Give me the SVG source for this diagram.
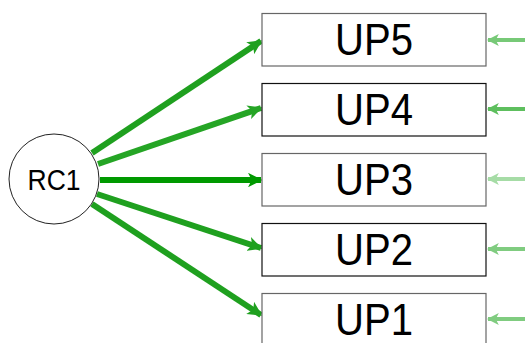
<svg xmlns="http://www.w3.org/2000/svg" width="525" height="343" viewBox="0 0 525 343">
<style>
.box{fill:#fff;stroke-width:1.2}
.lbl{font-family:"Liberation Sans",Arial,sans-serif;font-size:44px;fill:#000;text-anchor:middle}
.path{stroke-width:6;fill:none}
.err{stroke-width:4;fill:none}
</style>
<defs>
<marker id="ah" viewBox="0 0 10 10" refX="9" refY="5" markerWidth="2.4" markerHeight="2.4" orient="auto" markerUnits="strokeWidth"><path d="M0,0 L10,5 L0,10 L2.5,5 Z" fill="context-stroke"/></marker>
<marker id="ahe" viewBox="0 0 10 10" refX="9" refY="5" markerWidth="3" markerHeight="3" orient="auto" markerUnits="strokeWidth"><path d="M0,0 L10,5 L0,10 L2.5,5 Z" fill="context-stroke"/></marker>
</defs>
<g id="connectors">
<line class="path" x1="92" y1="153" x2="261" y2="41" stroke="#1fa01f" marker-end="url(#ah)"/>
<line class="path" x1="98" y1="164" x2="261" y2="108" stroke="#25a525" marker-end="url(#ah)"/>
<line class="path" x1="100" y1="180" x2="261" y2="180" stroke="#009900" stroke-width="7" marker-end="url(#ah)"/>
<line class="path" x1="97" y1="194" x2="261" y2="248" stroke="#1fa01f" marker-end="url(#ah)"/>
<line class="path" x1="92" y1="204" x2="261" y2="315" stroke="#1fa01f" marker-end="url(#ah)"/>
<line class="err" x1="525" y1="40" x2="488" y2="40" stroke="#77c977" marker-end="url(#ahe)"/>
<line class="err" x1="525" y1="109" x2="488" y2="109" stroke="#5ebf5e" marker-end="url(#ahe)"/>
<line class="err" x1="525" y1="179" x2="488" y2="179" stroke="#a6dca6" marker-end="url(#ahe)"/>
<line class="err" x1="525" y1="249" x2="488" y2="249" stroke="#80cc80" marker-end="url(#ahe)"/>
<line class="err" x1="525" y1="319" x2="488" y2="319" stroke="#80cc80" marker-end="url(#ahe)"/>
</g>
<g id="RC1">
<circle cx="54" cy="179" r="45" fill="#fff" stroke="#222" stroke-width="1"/>
<text x="54" y="190" font-family="Liberation Sans,Arial,sans-serif" font-size="29" text-anchor="middle" textLength="53" lengthAdjust="spacingAndGlyphs">RC1</text>
</g>
<g id="UP5"><rect class="box" x="262" y="13.5" width="224" height="52.5" stroke="#666"/><text class="lbl" x="374" y="55" textLength="78" lengthAdjust="spacingAndGlyphs">UP5</text></g>
<g id="UP4"><rect class="box" x="262" y="83.5" width="224" height="52.5" stroke="#111"/><text class="lbl" x="374" y="125" textLength="78" lengthAdjust="spacingAndGlyphs">UP4</text></g>
<g id="UP3"><rect class="box" x="262" y="153.5" width="224" height="52.5" stroke="#666"/><text class="lbl" x="374" y="195" textLength="78" lengthAdjust="spacingAndGlyphs">UP3</text></g>
<g id="UP2"><rect class="box" x="262" y="223.5" width="224" height="52.5" stroke="#111"/><text class="lbl" x="374" y="265" textLength="78" lengthAdjust="spacingAndGlyphs">UP2</text></g>
<g id="UP1"><rect class="box" x="262" y="293.5" width="224" height="52.5" stroke="#666"/><text class="lbl" x="374" y="335" textLength="78" lengthAdjust="spacingAndGlyphs">UP1</text></g>
</svg>
